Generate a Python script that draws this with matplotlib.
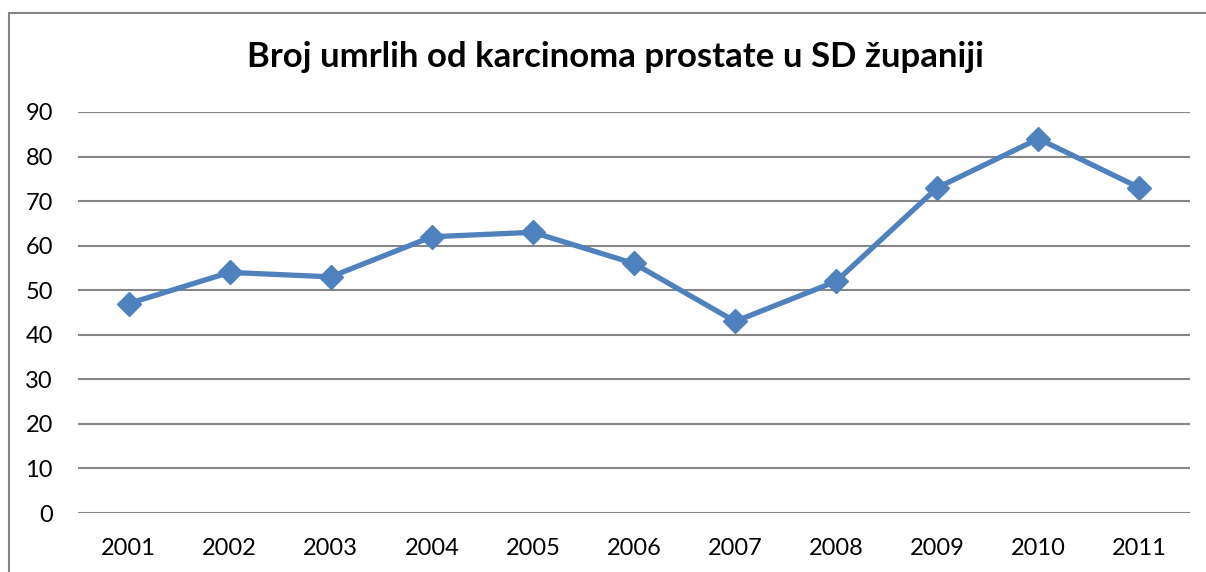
import matplotlib.pyplot as plt
from matplotlib.patches import Rectangle

years = ["2001", "2002", "2003", "2004", "2005", "2006",
         "2007", "2008", "2009", "2010", "2011"]
deaths = [47, 54, 53, 62, 63, 56, 43, 52, 73, 84, 73]
y_ticks = [0, 10, 20, 30, 40, 50, 60, 70, 80, 90]

plt.rcParams["font.family"] = ["Lato", "DejaVu Sans"]

W, H = 1206, 572
fig = plt.figure(figsize=(W / 100, H / 100), dpi=100)

# plot area in pixels: x 78..1190, y 112..513
ax = fig.add_axes([78 / W, 1 - 513 / H, (1190 - 78) / W, (513 - 112) / H])

x = list(range(len(years)))
ax.plot(x, deaths, color="#4F81BD", linewidth=3.8, marker="D", markersize=12.5,
        markerfacecolor="#4F81BD", markeredgecolor="#4F81BD", zorder=3)

ax.set_xlim(-0.5, len(years) - 0.5)
ax.set_ylim(0, 90)
ax.set_yticks(y_ticks)
ax.set_xticks(x)
ax.set_xticklabels(years)
ax.grid(axis="y", color="#868686", linewidth=1.5)
ax.set_axisbelow(True)
for s in ax.spines.values():
    s.set_visible(False)
ax.tick_params(length=0, labelsize=17, colors="black")
ax.tick_params(axis="y", pad=18)
ax.tick_params(axis="x", pad=18)

fig.text(615 / W, 1 - 67 / H, "Broj umrlih od karcinoma prostate u SD županiji",
         ha="center", va="baseline", fontsize=25, fontweight="bold")

# chart border (right and bottom edges run off the image)
fig.patches.append(Rectangle((9 / W, -0.05), 1.1, 1 - 13 / H + 0.05,
                             transform=fig.transFigure, fill=False,
                             edgecolor="#868686", linewidth=1.5))

fig.savefig("out.png", dpi=100)
